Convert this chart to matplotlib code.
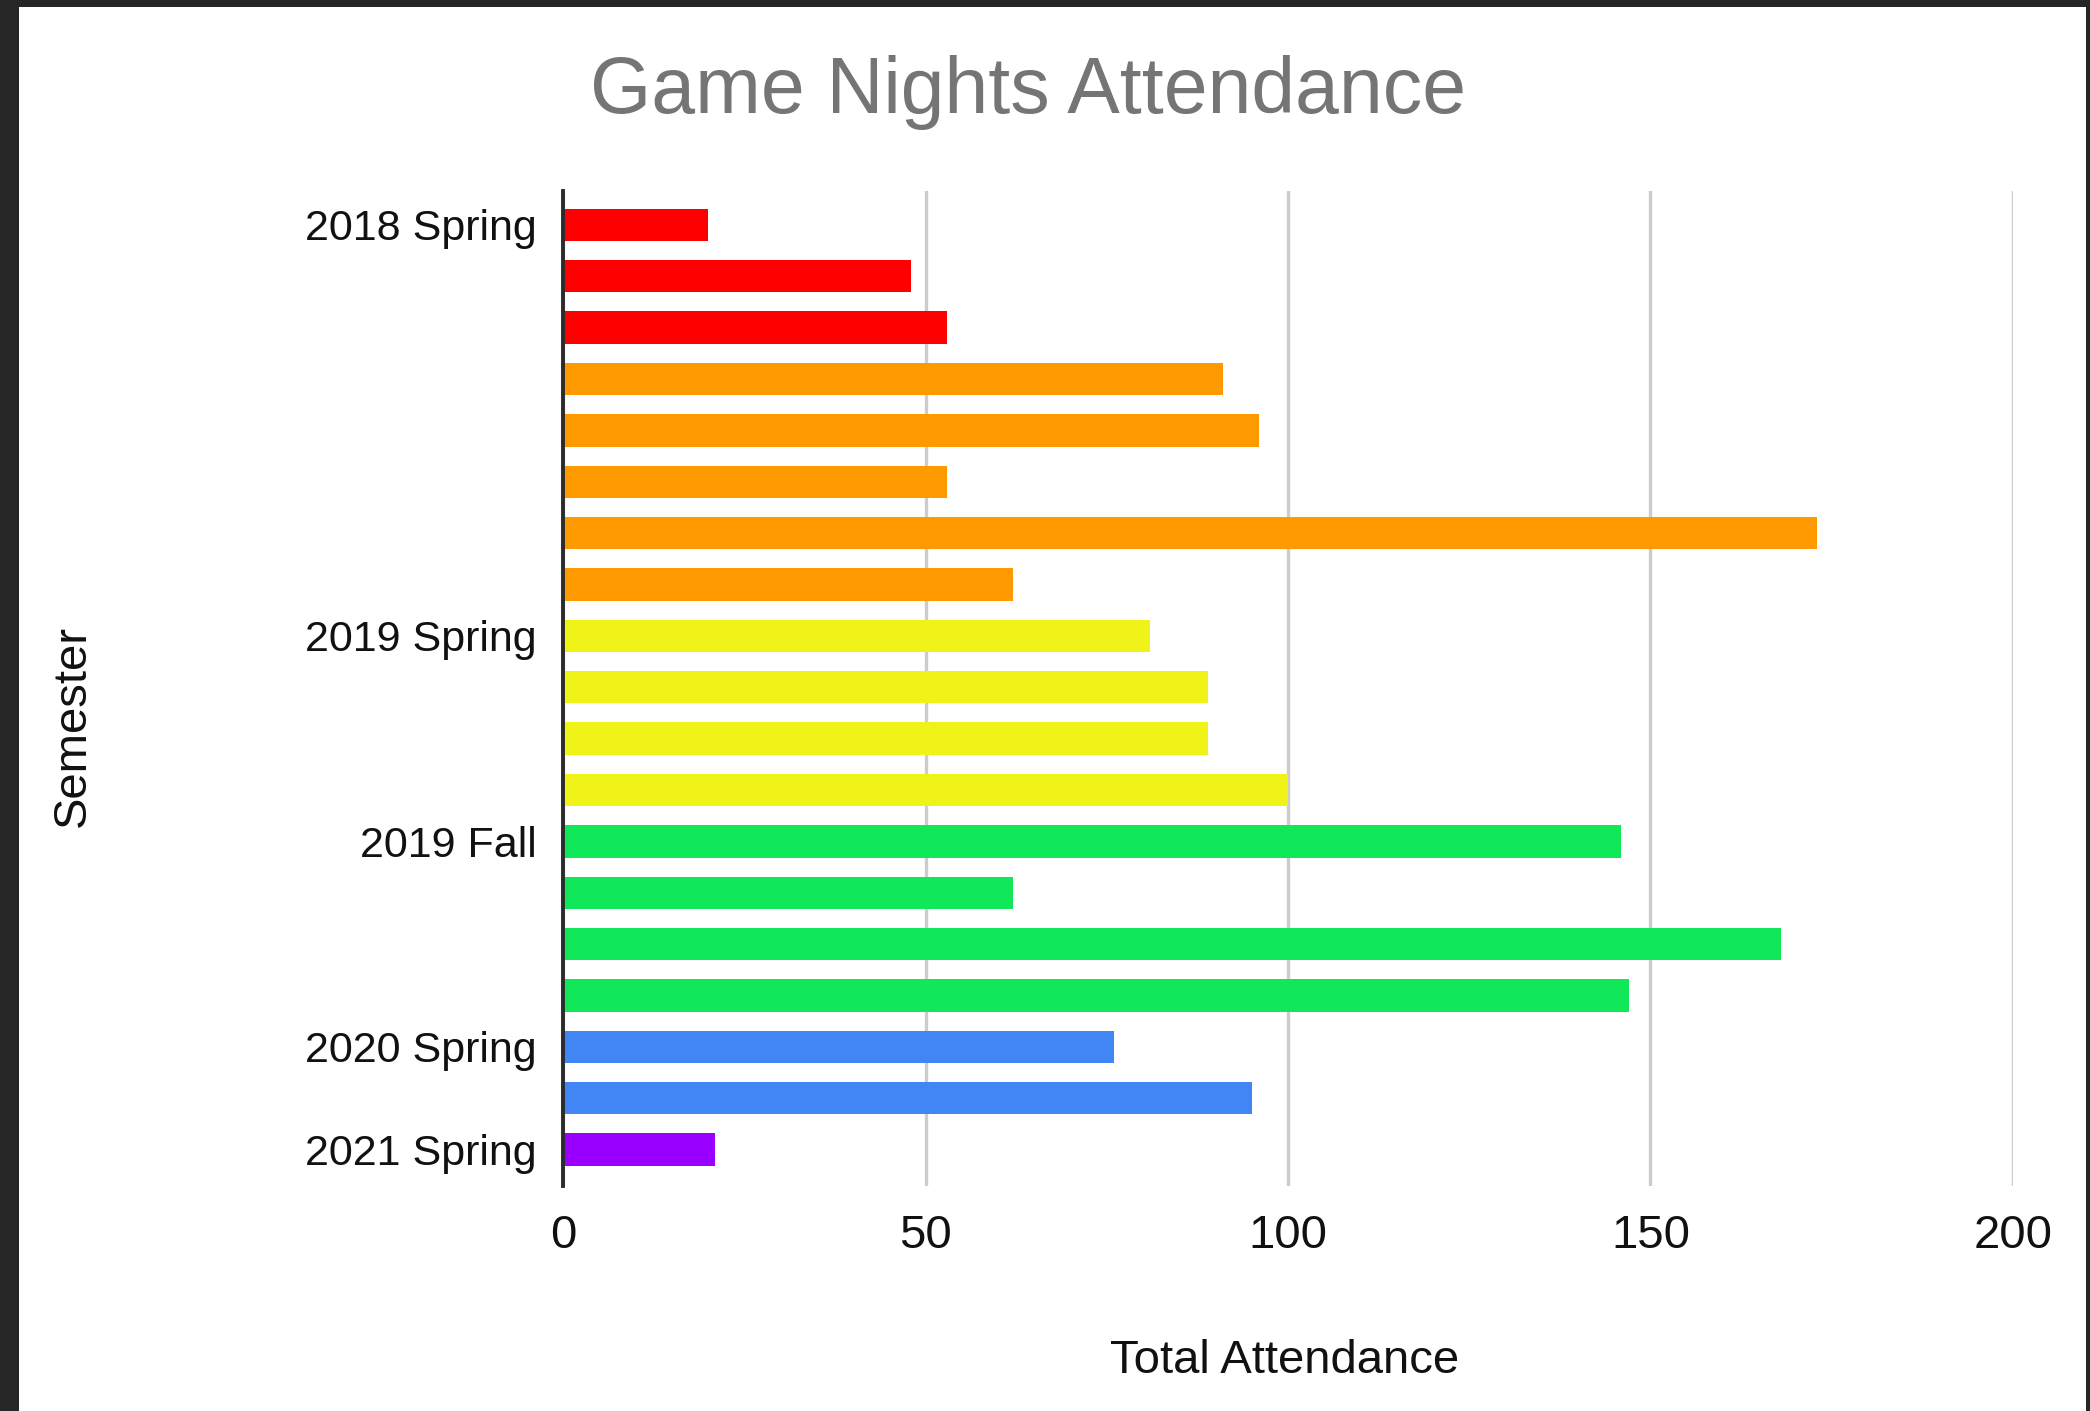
import matplotlib
matplotlib.use("Agg")
import matplotlib.pyplot as plt
from matplotlib.patches import Rectangle

plt.rcParams['font.family'] = ['Liberation Sans', 'DejaVu Sans']

# one bar per game night, grouped by semester
semesters = (["2018 Spring"] * 3 + ["2018 Fall"] * 5 + ["2019 Spring"] * 4
             + ["2019 Fall"] * 4 + ["2020 Spring"] * 2 + ["2021 Spring"])
attendance = [20, 48, 53, 91, 96, 53, 173, 62, 81, 89, 89, 100,
              146, 62, 168, 147, 76, 95, 21]
shown_labels = ["2018 Spring", "", "", "", "", "", "", "", "2019 Spring",
                "", "", "", "2019 Fall", "", "", "", "2020 Spring", "",
                "2021 Spring"]
semester_colors = {
    "2018 Spring": "#ff0000",
    "2018 Fall": "#ff9900",
    "2019 Spring": "#eff317",
    "2019 Fall": "#10e85a",
    "2020 Spring": "#4285f4",
    "2021 Spring": "#9900ff",
}
xticks = [0, 50, 100, 150, 200]

W, H = 2090, 1411
fig = plt.figure(figsize=(W / 100, H / 100), dpi=100)
fig.patch.set_facecolor("#262626")
# white chart card inside the dark spreadsheet frame
fig.patches.append(Rectangle((19 / W, 0), (2086 - 19) / W, (H - 7) / H,
                             transform=fig.transFigure, facecolor="white",
                             edgecolor="none", zorder=-10))

ax = fig.add_axes([563 / W, 1 - 1186 / H, (2013 - 563) / W, (1186 - 191) / H])
ax.set_facecolor("none")
ax.set_zorder(2)

ypos = list(range(len(attendance)))
colors = [semester_colors[s] for s in semesters]
ax.barh(ypos, attendance, height=0.63, color=colors, zorder=3)

ax.set_xlim(0, 200)
ax.set_ylim(len(attendance) - 1 + 0.71, -0.66)
ax.set_xticks(xticks)
ax.set_xticklabels([str(t) for t in xticks], fontsize=34, color="#111111")
ax.set_yticks(ypos)
ax.set_yticklabels(shown_labels, fontsize=31, color="#111111")
ax.tick_params(axis="x", length=0, pad=20)
ax.tick_params(axis="y", length=0, pad=19)

ax.grid(axis="x", color="#cccccc", linewidth=2.4, zorder=1)
for side in ["top", "right", "bottom"]:
    ax.spines[side].set_visible(False)
ax.spines["left"].set_color("#2b2b2b")
ax.spines["left"].set_linewidth(2.8)
ax.spines["left"].set_zorder(4)

fig.text(1028 / W, 1 - 93 / H, "Game Nights Attendance", fontsize=56.7,
         color="#757575", ha="center", va="center")
fig.text(1285 / W, 1 - 1361 / H, "Total Attendance", fontsize=34,
         color="#111111", ha="center", va="center")
fig.text(73 / W, 1 - 726 / H, "Semester", fontsize=34, color="#111111",
         ha="center", va="center", rotation=90)

fig.savefig("out.png", dpi=100, facecolor=fig.get_facecolor())
